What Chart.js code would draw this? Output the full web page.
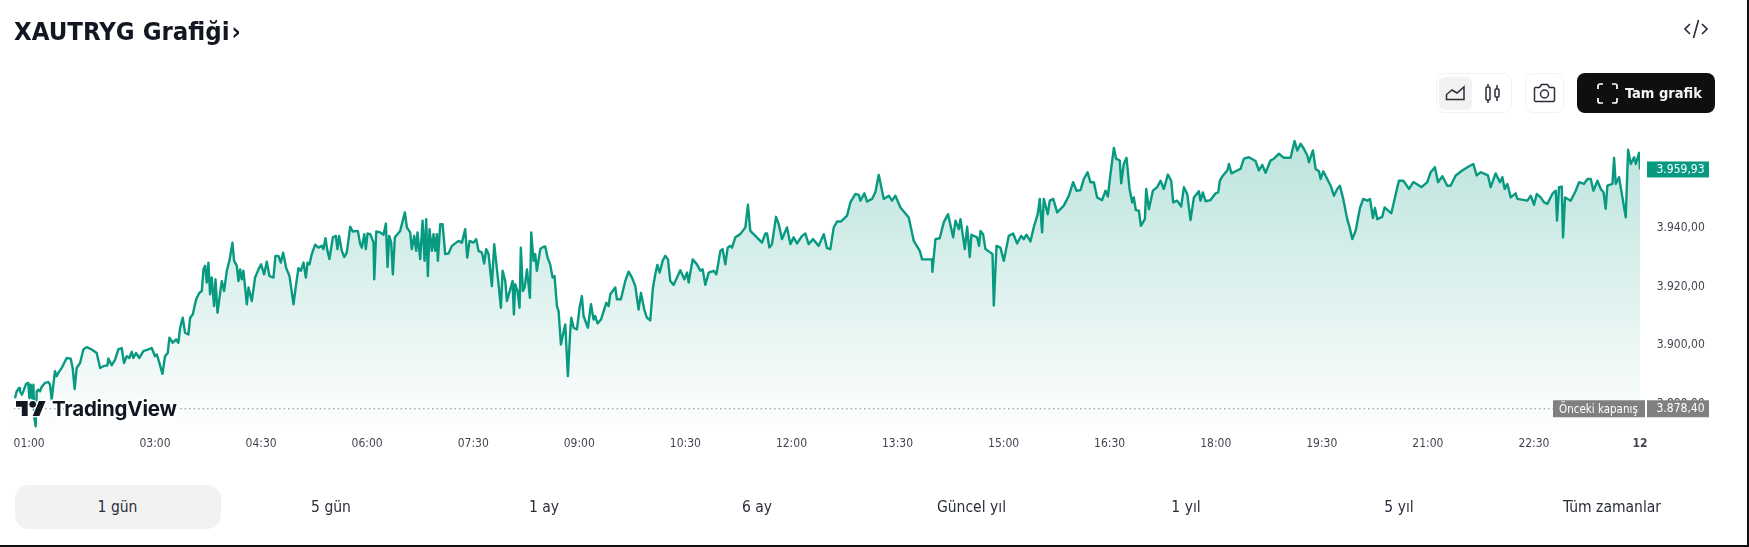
<!DOCTYPE html>
<html lang="tr">
<head>
<meta charset="utf-8">
<title>XAUTRYG Grafiği</title>
<script src="https://cdn.jsdelivr.net/npm/chart.js@4"></script>
<style>
  html, body { margin: 0; padding: 0; background: #fff; width: 1749px; height: 547px; overflow: hidden; }
  body { font-family: 'DejaVu Sans Condensed', 'DejaVu Sans', sans-serif; font-stretch: condensed; }
  #page { position: relative; width: 1749px; height: 547px; overflow: hidden; }
  #chart { position: absolute; left: 0; top: 0; }
  .abs { position: absolute; white-space: nowrap; }
  #title { left: 14px; top: 14px; font-size: 25.5px; font-weight: bold; color: #131722; line-height: 34px; }
  .box { border: 1px solid #f2f2f2; border-radius: 8px; box-sizing: border-box; }
  .tab { top: 485px; height: 44px; line-height: 44px; width: 206px; text-align: center; font-size: 15.5px; color: #2a2e39; }
  #tab0 { background: #f2f2f2; border-radius: 14px; }
  #full { left: 1577px; top: 73px; width: 138px; height: 40px; background: #0f0f0f; border-radius: 8px; }
  #full span { position: absolute; left: 48px; top: 0; line-height: 40px; color: #f4f4f4; font-size: 14.5px; font-weight: bold; }
  #tv-word { left: 52px; top: 396px; font-family: Inter, sans-serif; font-stretch: normal; font-size: 20.5px; font-weight: 700; line-height: 26px; color: #131722;
    -webkit-text-stroke: 3px #fff; paint-order: stroke fill; letter-spacing: -0.2px; }
</style>
</head>
<body>
<div id="page">
  <canvas id="chart" width="1749" height="547"></canvas>

  <div class="abs" id="title">XAUTRYG Grafiği<span style="font-size:25px;margin-left:2px">›</span></div>

  <svg class="abs" style="left:1684px;top:18px" width="24" height="22" viewBox="0 0 24 22" fill="none" stroke="#2a2e39" stroke-width="1.6">
    <path d="M6 6l-5 5 5 5M18 6l5 5-5 5M14.5 2l-5 18"/>
  </svg>

  <div class="abs box" style="left:1436px;top:73px;width:76px;height:40px"></div>
  <div class="abs" style="left:1439px;top:77px;width:33px;height:33px;background:#f2f2f2;border-radius:6px"></div>
  <svg class="abs" style="left:1445px;top:85px" width="22" height="16" viewBox="0 0 22 16" fill="none" stroke="#2a2e39" stroke-width="1.5">
    <path d="M1.5 14.5V9.5L7 5l5 3 7-6v12.5z"/>
  </svg>
  <svg class="abs" style="left:1484px;top:83px" width="18" height="21" viewBox="0 0 18 21" fill="none" stroke="#2a2e39" stroke-width="1.5">
    <rect x="2" y="4" width="4" height="13" rx="1"/><path d="M4 1v3M4 17v3"/>
    <rect x="11" y="6" width="4" height="8" rx="1"/><path d="M13 2v4M13 14v4"/>
  </svg>

  <div class="abs box" style="left:1525px;top:73px;width:39px;height:40px"></div>
  <svg class="abs" style="left:1533px;top:83px" width="23" height="20" viewBox="0 0 23 20" fill="none" stroke="#2a2e39" stroke-width="1.5">
    <path d="M2.5 4.5h4l2-3h6l2 3h4a1.2 1.2 0 0 1 1 1v12a1.2 1.2 0 0 1-1 1h-18a1.2 1.2 0 0 1-1-1v-12a1.2 1.2 0 0 1 1-1z"/>
    <circle cx="11.5" cy="11" r="4"/>
  </svg>

  <div class="abs" id="full">
    <svg style="position:absolute;left:20px;top:10px" width="21" height="21" viewBox="0 0 21 21" fill="none" stroke="#fff" stroke-width="1.7">
      <path d="M1 6V3a2 2 0 0 1 2-2h3M15 1h3a2 2 0 0 1 2 2v3M20 15v3a2 2 0 0 1-2 2h-3M6 20H3a2 2 0 0 1-2-2v-3"/>
    </svg>
    <span>Tam grafik</span>
  </div>

  <svg class="abs" style="left:16px;top:401px;overflow:visible" width="30" height="15" viewBox="0 4 36 18" fill="#131722" stroke="#fff" stroke-width="3" paint-order="stroke fill">
    <path d="M14 22H7V11H0V4h14v18zM28 22h-8l7.5-18h8L28 22z"/><circle cx="20" cy="8" r="4"/>
  </svg>
  <div class="abs" id="tv-word">TradingView</div>

  <div class="abs tab" id="tab0" style="left:14.5px">1 gün</div>
  <div class="abs tab" style="left:228px">5 gün</div>
  <div class="abs tab" style="left:441px">1 ay</div>
  <div class="abs tab" style="left:654px">6 ay</div>
  <div class="abs tab" style="left:868.5px">Güncel yıl</div>
  <div class="abs tab" style="left:1083px">1 yıl</div>
  <div class="abs tab" style="left:1296px">5 yıl</div>
  <div class="abs tab" style="left:1509px">Tüm zamanlar</div>

  <div class="abs" style="right:0;top:0;width:2px;height:547px;background:#111"></div>
  <div class="abs" style="left:0;bottom:0;width:1749px;height:2px;background:#111"></div>
</div>

<script>
// minutes since midnight
const times = [
  61.2,62.6,64.6,65.4,67.1,68.8,70.5,72.5,73.4,74.5,75.6,76.8,77.6,78.7,79.6,81.0,82.4,83.8,86.6,89.5,
  90.9,92.3,95.1,96.6,98.0,100.8,105.0,108.4,110.1,111.8,113.5,116.4,119.2,122.0,126.3,130.5,133.4,136.2,139.6,140.4,
  143.2,146.1,148.9,151.7,153.7,156.0,158.2,160.2,161.6,163.9,166.7,170.1,174.4,177.2,180.0,181.5,183.7,186.3,188.5,190.8,
  192.2,195.0,197.9,199.8,201.3,203.5,205.5,208.3,
  209.8,212.0,214.9,217.7,219.7,221.1,222.5,223.9,225.3,226.7,228.1,230.1,231.3,233.0,234.7,236.6,238.6,240.9,243.1,245.7,
  247.1,249.4,250.8,252.2,253.6,255.0,257.9,259.3,262.1,264.9,267.8,270.0,272.6,274.8,277.1,280.5,282.2,284.7,286.7,288.7,
  291.2,294.1,297.5,299.7,301.7,303.7,306.0,308.0,309.4,311.1,313.0,315.9,318.7,321.5,322.9,324.6,326.3,328.0,330.9,333.4,
  334.8,336.2,338.5,340.5,342.7,345.6,347.8,352.1,354.1,355.5,357.5,358.9,360.3,362.6,365.4,366.0,367.7,371.0,373.9,375.9,
  377.3,378.7,380.4,381.8,383.5,388.0,392.0,393.7,396.5,397.9,399.9,401.6,402.7,405.0,407.0,408.7,410.1,411.5,412.9,414.9,
  416.3,417.7,419.1,420.0,422.0,424.0,426.2,429.0,431.9,435.6,437.5,440.4,443.2,444.9,446.9,450.3,452.5,454.5,457.4,459.3,
  461.0,463.0,465.8,467.8,471.5,473.5,474.9,477.2,478.6,481.4,483.4,484.5,485.6,487.6,489.3,490.4,492.1,493.6,495.6,498.1,
  499.2,501.2,502.6,504.0,506.9,
  508.3,511.1,513.1,515.3,517.3,519.0,521.0,522.4,524.4,526.7,528.1,530.3,532.3,533.2,535.2,538.0,540.2,542.2,543.6,547.3,
  549.9,552.1,553.5,555.5,558.4,562.9,564.9,566.3,570.5,571.9,575.3,579.0,581.8,584.7,587.5,590.3,592.3,595.1,597.4,600.2,
  602.5,604.5,606.2,608.2,610.7,613.0,615.2,617.2,620.0,622.9,625.7,629.1,631.4,632.8,634.2,636.2,639.8,642.7,644.7,646.9,
  649.8,654.0,656.3,659.7,661.6,663.9,665.9,668.1,669.6,672.4,676.6,680.9,683.1,685.1,689.4,695.0,697.9,699.3,701.3,703.5,
  706.9,709.2,712.0,716.2,719.1,721.9,724.7,729.0,731.8,734.6,738.3,743.1,747.4,750.2,753.0,755.9,758.7,762.1,767.2,770.0,
  774.3,777.1,778.5,781.9,784.2,788.4,791.2,794.1,798.3,802.6,805.4,808.2,812.5,819.5,823.8,828.9,830.9,839.3,839.6,842.2,
  845.8,849.2,852.9,857.2,859.2,862.0,863.4,867.1,869.1,871.3,872.7,877.5,879.2,880.4,882.6,884.6,888.9,890.6,891.7,894.0,
  897.3,900.2,904.4,908.1,911.5,914.9,917.2,919.4,922.8,925.6,929.0,930.7,932.7,934.1,937.5,939.2,942.1,945.5,951.1,955.4,
  959.0,961.9,965.3,968.1,971.2,973.7,976.6,979.4,983.6,986.5,988.5,990.7,993.6,995.5,998.6,999.8,1002.0,1004.3,1006.9,1009.1,
  1010.5,1012.2,1014.8,1016.5,1019.9,1021.0,1023.3,1026.7,1030.3,1033.2,1036.0,1039.4,1042.2,1043.9,1047.3,1050.7,1053.0,1055.8,1058.6,1061.5,
  1065.7,1067.1,1069.1,1071.4,1075.6,1079.9,1082.1,1083.5,1085.5,1089.8,1091.2,1093.4,1098.2,1101.1,1103.9,1108.1,1113.8,1116.6,1119.5,1122.3,
  1126.5,1129.4,1133.6,1137.9,1143.5,1146.9,1149.2,1152.0,1154.8,1157.7,1159.1,1162.5,1164.8,1167.6,1169.0,1171.3,1177.5,1180.3,1183.1,1185.4,
  1188.2,1191.6,1193.6,1195.9,1198.7,1202.4,1205.2,1208.6,1210.9,1213.4,1215.1,1217.1,1221.3,1223.3,1229.0,1234.1,1235.5,1239.2,1244.0,1247.7,
  1250.5,1254.7,1259.5,1262.4,1266.0,1268.6,1272.3,1276.5,
  1279.3,1283.6,1289.2,1293.5,1298.6,1301.4,1304.8,1311.0,1313.3,1317.5,1321.2,1323.2,1325.2,1327.5,1330.3,1334.5,1335.9,1344.4,1347.3,1350.1,
  1352.4,1355.7,1358.6,1361.4,1365.6,1368.5,1369.6,1371.3,1373.6,1374.7,1376.4,1381.2,1385.5,1388.3,1392.5,1395.4,1398.2,1400.5,1403.9,1406.7,
  1409.0,1410.9,1412.3,1416.6,1418.0,1419.4,1422.2,1425.1,1427.9,1429.9,1432.2,1435.0,1436.4,1439.2,1440
];

const prices = [
  3882.0,3884.3,3885.5,3884.3,3883.2,3884.9,3886.8,3887.2,3882.0,3886.6,3882.0,3886.6,3875.2,3872.4,3884.3,3884.9,3884.3,3885.8,3887.2,3887.5,
  3886.6,3881.5,3891.2,3889.5,3890.6,3892.3,3895.7,3895.5,3892.3,3885.1,3892.3,3894.0,3898.6,3899.4,3898.6,3897.4,3892.3,3892.9,3893.2,3895.5,
  3893.2,3895.1,3898.6,3899.1,3894.0,3896.3,3895.7,3897.8,3895.7,3897.4,3895.7,3898.0,3898.6,3899.1,3896.3,3896.9,3894.0,3890.3,3896.3,3897.4,
  3902.6,3900.9,3902.0,3900.9,3906.0,3909.4,3904.3,3903.7,
  3909.4,3910.5,3915.7,3917.9,3918.5,3925.9,3927.1,3921.4,3928.2,3917.4,3923.1,3913.4,3922.5,3911.1,3916.2,3921.9,3918.5,3925.4,3928.8,3935.0,
  3928.8,3927.1,3921.9,3925.9,3922.5,3925.4,3914.0,3919.7,3915.1,3923.1,3925.9,3927.6,3924.2,3928.5,3923.6,3923.1,3930.5,3930.5,3928.2,3931.6,
  3926.5,3923.6,3914.0,3920.8,3926.3,3925.4,3928.2,3923.1,3928.2,3927.6,3931.1,3934.3,3933.3,3933.9,3932.8,3936.5,3932.2,3929.4,3936.8,3937.3,
  3932.8,3937.3,3932.2,3930.1,3931.6,3940.4,3938.8,3939.0,3934.5,3933.3,3937.9,3932.8,3938.1,3937.9,3935.0,3922.5,3938.8,3938.5,3937.7,3941.5,
  3926.7,3937.3,3935.0,3924.2,3936.8,3939.0,3945.3,3940.2,3938.5,3932.8,3937.3,3932.2,3938.5,3929.4,3942.5,3928.8,3943.0,3923.6,3939.6,3932.2,
  3937.9,3932.2,3937.9,3928.8,3941.3,3941.3,3931.1,3931.3,3933.9,3935.0,3935.6,3935.0,3939.6,3929.9,3935.6,3935.0,3936.2,3932.2,3931.6,3927.9,
  3932.8,3931.1,3920.2,3934.5,3920.8,3912.8,3925.4,3921.9,3915.1,3919.1,3921.9,3910.5,3920.8,3918.5,3912.8,3933.3,3918.5,3919.7,3925.9,3916.2,
  3938.5,3928.8,3931.1,3925.4,3932.8,
  3933.3,3933.7,3929.9,3927.6,3923.1,3923.6,3913.4,3911.7,3900.3,3904.8,3907.1,3889.5,3904.8,3909.4,3906.0,3905.4,3912.8,3916.8,3910.0,3906.0,
  3914.0,3908.8,3910.0,3907.5,3908.8,3914.5,3913.4,3917.4,3919.7,3915.7,3915.7,3921.9,3925.1,3923.1,3920.2,3912.2,3917.9,3912.2,3909.4,3908.5,
  3919.7,3924.2,3927.4,3924.8,3928.8,3930.5,3929.3,3921.9,3920.6,3923.1,3925.6,3922.5,3924.8,3921.4,3924.8,3929.3,3927.6,3925.4,3925.9,3920.6,
  3924.8,3925.4,3924.2,3932.2,3932.8,3927.6,3933.3,3933.9,3933.3,3936.8,3937.9,3940.2,3947.9,3939.0,3937.3,3935.0,3938.1,3938.1,3933.3,3934.5,
  3943.8,3941.3,3936.2,3940.2,3934.5,3936.8,3934.7,3937.3,3938.1,3934.5,3936.2,3933.9,3937.9,3933.1,3932.8,3940.2,3942.2,3942.2,3944.2,3948.7,
  3951.6,3951.3,3949.3,3951.8,3949.0,3949.9,3952.2,3958.1,3949.9,3951.0,3949.3,3951.0,3947.0,3943.6,3935.6,3932.2,3929.3,3929.3,3925.1,3936.2,
  3936.5,3941.9,3944.7,3936.8,3942.5,3939.6,3943.0,3932.8,3940.4,3930.1,3937.7,3936.8,3933.9,3939.0,3937.9,3932.8,3931.6,3931.1,3913.6,3933.9,
  3933.3,3928.8,3937.3,3938.1,3934.7,3937.3,3936.2,3937.7,3935.4,3940.2,3944.7,3949.9,3938.5,3949.9,3944.7,3949.3,3949.9,3945.3,3947.6,3951.0,
  3955.6,3952.7,3952.9,3956.7,3959.0,3955.6,3955.6,3950.4,3949.5,3952.7,3950.7,3958.4,3967.3,3963.6,3963.0,3955.2,3961.8,3963.9,3953.3,3948.7,
  3950.4,3946.1,3945.9,3940.7,3943.0,3953.3,3946.4,3952.7,3953.9,3956.1,3953.3,3958.2,3956.1,3948.7,3949.3,3947.3,3953.9,3951.6,3942.7,3950.4,
  3952.5,3949.3,3952.1,3949.1,3949.5,3951.8,3952.1,3956.1,3957.5,3959.6,3961.8,3958.6,3959.6,3960.1,3963.6,3964.1,3962.8,3959.6,3961.5,3958.8,
  3963.0,3963.6,3965.3,3963.9,3963.9,3969.6,3966.4,3968.7,3967.0,3964.7,3962.4,3966.4,3960.1,3959.3,3956.7,3959.3,3954.4,3951.0,3953.3,3954.4,
  3949.9,3943.0,3940.2,3936.2,3939.0,3946.8,3949.9,3949.3,3949.9,3943.4,3946.8,3943.0,3943.8,3947.0,3945.0,3953.9,3956.1,3956.1,3953.3,3955.6,
  3955.0,3953.9,3955.6,3959.0,3960.7,3955.6,3957.6,3954.4,
  3954.4,3957.9,3959.6,3960.7,3961.8,3957.9,3959.0,3957.9,3953.9,3958.6,3955.6,3957.3,3953.3,3955.0,3950.4,3951.8,3949.9,3949.3,3951.0,3947.9,
  3951.6,3950.4,3948.7,3948.2,3951.6,3952.7,3942.5,3953.9,3954.1,3936.8,3950.4,3949.3,3952.7,3955.6,3955.0,3956.7,3956.7,3952.7,3956.1,3953.3,
  3952.2,3946.5,3954.4,3955.0,3963.9,3955.0,3957.3,3950.4,3943.6,3966.7,3961.8,3964.1,3961.8,3965.6,3959.93
];

const xTickTimes = [60, 180, 270, 360, 450, 540, 630, 720, 810, 900, 990, 1080, 1170, 1260, 1350, 1440];
const xTickLabels = ['01:00', '03:00', '04:30', '06:00', '07:30', '09:00', '10:30', '12:00', '13:30', '15:00', '16:30', '18:00', '19:30', '21:00', '22:30', '12'];
const yTicks = [3880, 3900, 3920, 3940];
const lastPrice = 3959.93;
const prevClose = 3878.40;
const prevCloseLabel = 'Önceki kapanış';

const green = '#089981';
const labelFont = "'DejaVu Sans Condensed', 'DejaVu Sans', sans-serif";

function fmt(v) {
  return v.toLocaleString('tr-TR', { minimumFractionDigits: 2, maximumFractionDigits: 2 });
}

// price tags on the right, they sit above the axis labels
const priceTags = {
  id: 'priceTags',
  afterDraw(chart) {
    const ctx = chart.ctx;
    const y = chart.scales.y;
    ctx.save();
    ctx.font = '12px ' + labelFont;
    ctx.textBaseline = 'middle';
    ctx.textAlign = 'left';

    let py = y.getPixelForValue(lastPrice);
    ctx.fillStyle = green;
    ctx.fillRect(1647, py - 8, 62, 16);
    ctx.fillStyle = '#fff';
    ctx.fillText(fmt(lastPrice), 1656.5, py + 0.5);

    py = y.getPixelForValue(prevClose);
    ctx.fillStyle = '#808080';
    ctx.fillRect(1553, py - 8.5, 92, 17);
    ctx.fillRect(1647, py - 8.5, 62, 17);
    ctx.fillStyle = '#fff';
    ctx.fillText(fmt(prevClose), 1656.5, py + 0.5);
    ctx.font = '11.5px ' + labelFont;
    ctx.fillText(prevCloseLabel, 1559, py + 1);
    ctx.restore();
  }
};

new Chart(document.getElementById('chart'), {
  type: 'line',
  data: {
    datasets: [
      {
        data: times.map((t, i) => ({ x: t, y: prices[i] })),
        borderColor: green,
        borderWidth: 2.4,
        borderJoinStyle: 'round',
        pointRadius: 0,
        tension: 0,
        fill: 'start',
        backgroundColor(ctx) {
          const area = ctx.chart.chartArea;
          if (!area) return 'transparent';
          const g = ctx.chart.ctx.createLinearGradient(0, 130, 0, area.bottom);
          g.addColorStop(0, 'rgba(8,153,129,0.28)');
          g.addColorStop(1, 'rgba(8,153,129,0)');
          return g;
        }
      },
      {
        data: [{ x: 60, y: prevClose }, { x: 1440, y: prevClose }],
        borderColor: '#8a8a8a',
        borderWidth: 1,
        borderDash: [1.5, 3],
        pointRadius: 0,
        fill: false
      }
    ]
  },
  plugins: [priceTags],
  options: {
    responsive: false,
    animation: false,
    layout: { padding: { left: 13.6, top: 95.9, right: 0, bottom: 0 } },
    plugins: { legend: { display: false }, tooltip: { enabled: false } },
    scales: {
      x: {
        type: 'linear',
        min: 60,
        max: 1440,
        grid: { display: false },
        border: { display: false },
        afterFit(axis) { axis.height = 113.6; },
        // the extra tick past the end keeps the "12" label centred under the last point
        afterBuildTicks(axis) {
          axis.ticks = xTickTimes.concat(1530).map(v => ({ value: v }));
        },
        ticks: {
          autoSkip: false,
          maxRotation: 0,
          minRotation: 0,
          align: 'inner',
          padding: -5,
          color: '#434651',
          font(ctx) {
            return { family: labelFont, size: 12, weight: ctx.index === xTickTimes.length - 1 ? 'bold' : 'normal' };
          },
          callback(value, i) { return xTickLabels[i] || ''; }
        }
      },
      y: {
        position: 'right',
        min: 3870,
        max: 3985,
        grid: { display: false },
        border: { display: false },
        afterFit(axis) { axis.width = 109; },
        afterBuildTicks(axis) {
          axis.ticks = yTicks.map(v => ({ value: v }));
        },
        ticks: {
          padding: 8.7,
          color: '#434651',
          font: { family: labelFont, size: 12 },
          callback: v => fmt(v)
        }
      }
    }
  }
});
</script>
</body>
</html>
